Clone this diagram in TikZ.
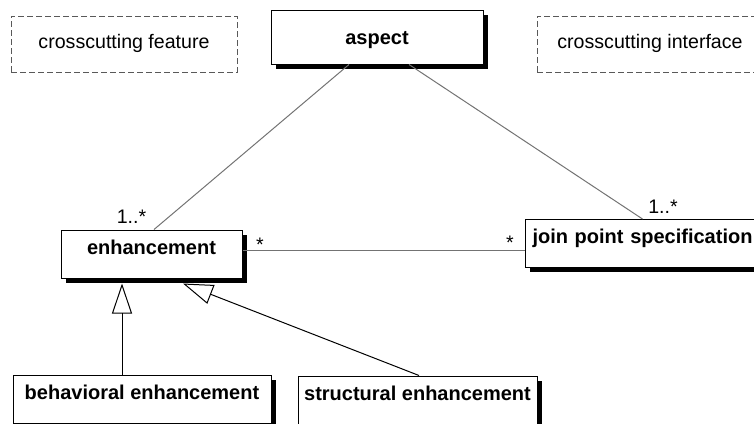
\documentclass[tikz,border=0pt]{standalone}
\usepackage{fontspec}
\setmainfont{Liberation Sans}
\usetikzlibrary{positioning}
\usetikzlibrary{shadows}
\usetikzlibrary{arrows.meta}
\tikzstyle{every node}=[font=\fontsize{9.8}{12}\selectfont]
\tikzstyle{class}=[rectangle, draw=black, line width=0.5pt, fill=white, inner xsep=0pt, inner ysep=0pt, text height=12pt, text depth=12pt, font=\fontsize{10}{12}\selectfont\bfseries, drop shadow={shadow xshift=2.25pt, shadow yshift=-2.25pt, fill=black, opacity=1}]
\tikzstyle{dashedbox}=[rectangle, draw=black!65, dash pattern=on 3pt off 1.5pt, line width=0.5pt, minimum width=113pt, inner ysep=0pt, text height=16pt, text depth=12pt]
\tikzstyle{assoc}=[draw=black!55, line width=0.5pt]
\tikzstyle{inherit}=[-{Triangle[open, length=15pt, width=10pt]}, draw=black, line width=0.5pt]
\tikzstyle{mult}=[inner sep=0pt, anchor=base]

\begin{document}
\begin{tikzpicture}[x=0.5pt, y=-0.5pt]
    \useasboundingbox (0,0) rectangle (754,423);
    \clip (0,0) rectangle (754,423);

    \node[dashedbox] (feature)   at (124,44) {crosscutting feature};
    \node[dashedbox] (interface) at (650,44) {crosscutting interface};

    \node[class, minimum width=106pt, text height=17pt, text depth=10pt] (aspect) at (377,37) {aspect};
    \node[class, minimum width=90.5pt]  (enhancement) at (151.5,254) {enhancement};
    \node[class, text width=113pt, inner xsep=3.5pt, align=left, anchor=north west] (joinpoint) at (525,219) {join point specification};
    \node[class, minimum width=129pt]   (behavioral)  at (142,399)   {behavioral enhancement};
    \node[class, minimum width=119.5pt] (structural)  at (417.5,400) {structural enhancement};

    % associations
    \draw[assoc] ([xshift=-14pt]aspect.south) -- ([xshift=1.25pt]enhancement.north);
    \draw[assoc] ([xshift=16pt]aspect.south)  -- ([xshift=-1.5pt]joinpoint.north);
    \draw[assoc] ([yshift=2pt]enhancement.east) coordinate (enhright) -- (enhright -| joinpoint.west);

    % generalizations
    \coordinate (behavioraltip) at ([xshift=-14.75pt, yshift=-2.5pt]enhancement.south);
    \coordinate (structuraltip) at ([xshift=15.75pt, yshift=-2.5pt]enhancement.south);
    \draw[inherit] (behavioral.north -| behavioraltip) -- (behavioraltip);
    \draw[inherit] ([xshift=0.75pt]structural.north)   -- (structuraltip);

    \node[mult] (enhmany)  at (131.5,223) {1..*};
    \node[mult] (joinmany) at (663,213)   {1..*};
    \node[mult] (enhend)   at (260,251)   {*};
    \node[mult] (joinend)  at (510,249)   {*};
\end{tikzpicture}
\end{document}
